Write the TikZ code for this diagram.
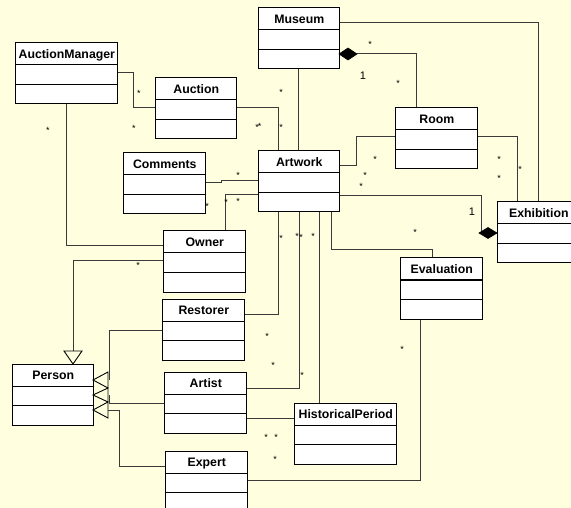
\documentclass[tikz,border=0pt]{standalone}
\usepackage{fontspec}
\setmainfont{Liberation Sans}
\definecolor{paper}{HTML}{FFFFE0}
\definecolor{wire}{HTML}{3A3A3A}
\tikzset{
  cls/.style={draw=black, fill=white, line width=1pt, anchor=north west,
              inner sep=0pt, outer sep=0pt, minimum height=61pt},
  clsline/.style={draw=black, line width=1pt},
  title/.style={font=\bfseries\fontsize{12.3}{14}\selectfont, anchor=base, inner sep=0pt},
  assoc/.style={draw=wire, line width=1pt},
  mult/.style={font=\fontsize{9}{10}\selectfont, anchor=base, inner sep=0pt},
  one/.style={font=\fontsize{11}{12}\selectfont, anchor=base, inner sep=0pt},
  hollow/.style={draw=black, fill=paper, line width=0.9pt, line join=miter},
  solid diamond/.style={draw=black, fill=black, line width=0.6pt},
}
% class box: name, left, top, width, title
\newcommand\umlclass[5]{%
  \node[cls, minimum width=#4pt] (#1) at (#2,#3) {};
  \draw[clsline] (#1.north west) ++(0,22) -- ++(#4,0);
  \draw[clsline] (#1.north west) ++(0,41.5) -- ++(#4,0);
  \path (#1.north) ++(0.8,15.5) node[title] (#1-t) {#5};
}
\begin{document}
\begin{tikzpicture}[x=1pt,y=-1pt]
\fill[paper] (0,0) rectangle (571,508);
\useasboundingbox (0,0) rectangle (571,508);

% ---------- associations (drawn first, boxes on top) ----------
\draw[assoc] (15+102,73) -| (133,108) -- (155,108);            % AuctionManager - Auction
\draw[assoc] (66,103) |- (163,246);                            % AuctionManager - Owner
\draw[assoc] (236,108) -| (278,151);                           % Auction - Artwork
\draw[assoc] (298.5,69) -- (298.5,151);                        % Museum - Artwork
\draw[assoc] (357,54) -| (416,108);                            % Museum <>- Room
\draw[assoc] (339,23) -| (538,202);                            % Museum - Exhibition
\draw[assoc] (339,166) -| (356,137) -- (395,137);              % Artwork - Room
\draw[assoc] (477,137) -| (517,202);                           % Room - Exhibition
\draw[assoc] (339,196) -| (481,233);                           % Artwork - Exhibition
\draw[assoc] (331,212) |- (432,250) -- (432,258);              % Artwork - Evaluation
\draw[assoc] (420,319) |- (247,480);                           % Evaluation - Expert
\draw[assoc] (205,183) -- (221,183) -- (221,181) -- (258,181); % Comments - Artwork
\draw[assoc] (258,195) -| (225,231);                           % Artwork - Owner
\draw[assoc] (244,314) -| (278,212);                           % Restorer - Artwork
\draw[assoc] (246,388) -| (299,212);                           % Artist - Artwork
\draw[assoc] (319,212) -- (319,403);                           % Artwork - HistoricalPeriod
\draw[assoc] (246,418) -- (294,418);                           % Artist - HistoricalPeriod
% generalizations
\draw[assoc] (163,261) -| (73,351);                            % Owner -> Person
\draw[assoc] (162,330) -| (109,380);                           % Restorer -> Person
\draw[assoc] (164,403) -| (109,395);                           % Artist -> Person
\draw[assoc] (165,466) -| (119,410) -- (108,410);              % Expert -> Person

% ---------- classes ----------
\umlclass{am}{15}{43}{102}{AuctionManager}
\umlclass{auction}{155}{78}{81}{Auction}
\umlclass{museum}{258}{8}{81}{Museum}
\umlclass{comments}{123}{153}{82}{Comments}
\umlclass{artwork}{258}{151}{81}{Artwork}
\umlclass{room}{395}{108}{82}{Room}
\umlclass{exhibition}{497}{202}{82}{Exhibition}
\umlclass{evaluation}{400}{258}{82}{Evaluation}
\umlclass{owner}{163}{231}{82}{Owner}
\umlclass{restorer}{162}{299}{82}{Restorer}
\umlclass{artist}{164}{372}{82}{Artist}
\umlclass{person}{12}{364}{81}{Person}
\umlclass{expert}{165}{451}{82}{Expert}
\umlclass{hp}{294}{403}{102}{HistoricalPeriod}

% ---------- arrow heads ----------
\draw[solid diamond] (339,54) -- (348,48) -- (357,54) -- (348,60) -- cycle;
\draw[solid diamond] (497,233) -- (488,227.5) -- (479,233) -- (488,238.5) -- cycle;
\draw[hollow] (73,364) -- (64,351) -- (82,351) -- cycle;
\draw[hollow] (93,380) -- (108,372) -- (108,388) -- cycle;
\draw[hollow] (93,395) -- (108,388) -- (108,402) -- cycle;
\draw[hollow] (93,410) -- (108,402) -- (108,418) -- cycle;

% ---------- multiplicities ----------
\foreach \x/\y [count=\i] in {139/91, 134/126, 48/128, 257/125, 259.5/124.5, 281/125,
    281/90, 370/42, 398/81, 375/157, 365/173, 361/184, 499/157, 499/176, 520/167,
    415/230, 402/347, 275/457, 238/173, 207/204, 226/200, 238/199, 138/263,
    281/236, 267/334, 297/234, 301/235, 313/234, 273/363, 302/373, 266/435, 276/435}
  \node[mult] (m\i) at (\x,\y+5.2) {*};
\node[one] (one1) at (363,80) {1};
\node[one] (one2) at (472,216) {1};
\end{tikzpicture}
\end{document}
